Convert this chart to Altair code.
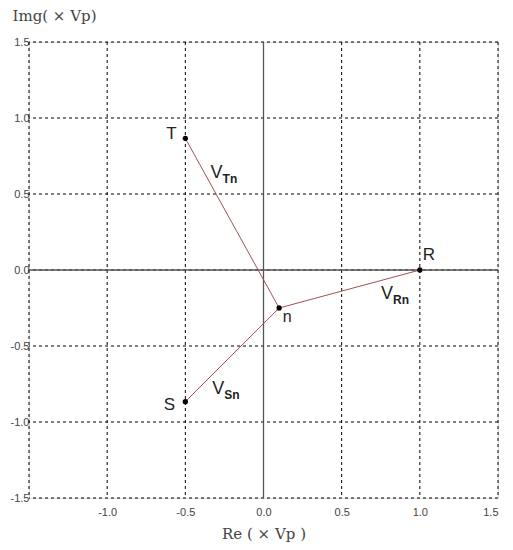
import altair as alt
import pandas as pd

# Phasor end points
names = ["R", "S", "T"]
re_vals = [1.0, -0.5, -0.5]
im_vals = [0.0, -0.866, 0.866]
# neutral point
n_re = 0.10
n_im = -0.25

# vector labels
vec_main = ["V", "V", "V"]
vec_sub = ["Rn", "Sn", "Tn"]
vec_re = [0.79, -0.29, -0.30]
vec_im = [-0.16, -0.78, 0.64]

ticks = [-1.5, -1.0, -0.5, 0.0, 0.5, 1.0, 1.5]
x_label_ticks = [-1.0, -0.5, 0.0, 0.5, 1.0, 1.5]
zero = [0.0]

pts = pd.DataFrame({"name": names, "re": re_vals, "im": im_vals})
seg = pd.DataFrame({"name": names, "re": re_vals, "im": im_vals,
                    "re2": [n_re] * 3, "im2": [n_im] * 3})
npt = pd.DataFrame({"name": ["n"], "re": [n_re], "im": [n_im]})
vec = pd.DataFrame({"main": vec_main, "sub": vec_sub, "re": vec_re, "im": vec_im})
zdf = pd.DataFrame({"z": zero})

xs = alt.Scale(domain=[-1.5, 1.5], nice=False, zero=False)
ys = alt.Scale(domain=[-1.5, 1.5], nice=False, zero=False)

lbl = "replace(format(datum.value, '.1f'), '\u2212', '-')"

xaxis = alt.Axis(values=x_label_ticks, labelExpr=lbl, grid=False, ticks=False,
                 domain=False, labelPadding=8, labelFont="Liberation Sans",
                 labelFontSize=11, labelColor="#444",
                 title="Re ( × Vp )", titleFont="DejaVu Serif", titleFontSize=15,
                 titleFontWeight="normal", titleColor="#444", titlePadding=9)
yaxis = alt.Axis(values=ticks, labelExpr=lbl, grid=False, ticks=False, domain=False,
                 labelPadding=0, labelFont="Liberation Sans", labelFontSize=11,
                 labelColor="#444",
                 title="Img( × Vp)", titleAngle=0, titleAlign="left",
                 titleBaseline="middle", titleX=-17, titleY=-27,
                 titleFont="DejaVu Serif", titleFontSize=15,
                 titleFontWeight="normal", titleColor="#444")

# dashed grid
gx = alt.Chart(pd.DataFrame({"v": ticks})).mark_rule(
    color="black", strokeDash=[3, 3], strokeWidth=1
).encode(x=alt.X("v:Q", scale=xs, axis=xaxis))
gy = alt.Chart(pd.DataFrame({"v": ticks})).mark_rule(
    color="black", strokeDash=[3, 3], strokeWidth=1
).encode(y=alt.Y("v:Q", scale=ys, axis=yaxis))

zx = alt.Chart(zdf).mark_rule(color="#555", strokeWidth=1.3).encode(x=alt.X("z:Q", scale=xs))
zy = alt.Chart(zdf).mark_rule(color="#555", strokeWidth=1.3).encode(y=alt.Y("z:Q", scale=ys))

lines = alt.Chart(seg).mark_rule(color="#a05050", strokeWidth=1).encode(
    x=alt.X("re:Q", scale=xs), y=alt.Y("im:Q", scale=ys), x2="re2:Q", y2="im2:Q"
)

dots = alt.Chart(pd.concat([pts, npt])).mark_circle(color="black", opacity=1, size=28).encode(
    x=alt.X("re:Q", scale=xs), y=alt.Y("im:Q", scale=ys)
)

font = "Liberation Sans"
lab_T = alt.Chart(pts[pts.name == "T"]).mark_text(
    font=font, fontSize=17, color="#222", dx=-14, dy=-4
).encode(x=alt.X("re:Q", scale=xs), y=alt.Y("im:Q", scale=ys), text="name:N")
lab_S = alt.Chart(pts[pts.name == "S"]).mark_text(
    font=font, fontSize=17, color="#222", dx=-16, dy=3
).encode(x=alt.X("re:Q", scale=xs), y=alt.Y("im:Q", scale=ys), text="name:N")
lab_R = alt.Chart(pts[pts.name == "R"]).mark_text(
    font=font, fontSize=17, color="#222", dx=9, dy=-15
).encode(x=alt.X("re:Q", scale=xs), y=alt.Y("im:Q", scale=ys), text="name:N")
lab_n = alt.Chart(npt).mark_text(
    font=font, fontSize=16, color="#222", dx=8, dy=9
).encode(x=alt.X("re:Q", scale=xs), y=alt.Y("im:Q", scale=ys), text="name:N")

vmain = alt.Chart(vec).mark_text(font=font, fontSize=18, color="#222").encode(
    x=alt.X("re:Q", scale=xs), y=alt.Y("im:Q", scale=ys), text="main:N"
)
vsub = alt.Chart(vec).mark_text(font=font, fontSize=12, fontWeight="bold",
                                color="#222", align="left", dx=6, dy=6).encode(
    x=alt.X("re:Q", scale=xs), y=alt.Y("im:Q", scale=ys), text="sub:N"
)

chart = alt.layer(gx, gy, zx, zy, lines, dots, lab_T, lab_S, lab_R, lab_n, vmain, vsub).properties(
    width=469, height=456,
    autosize=alt.AutoSizeParams(type="none"),
    padding={"left": 21, "top": 34, "right": 7, "bottom": 44},
).configure_view(stroke="#444", strokeWidth=2).configure(background="white")

chart.save("out.html", embed_options={"renderer": "svg", "actions": False})
